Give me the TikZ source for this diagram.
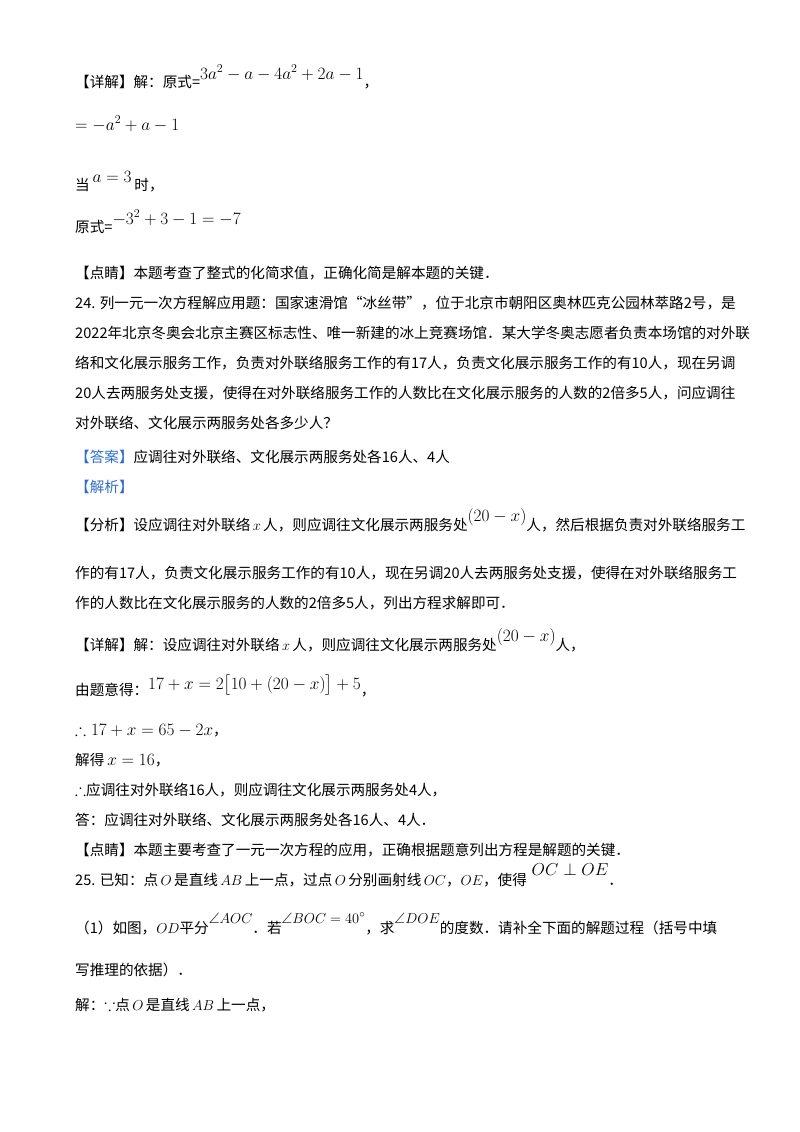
\documentclass[tikz,border=0pt]{standalone}
\usepackage{amsmath,amssymb}
\usepackage{fontspec}
\setmainfont{Noto Sans CJK SC}
\newcommand{\rs}[2][7pt]{\raisebox{#1}{\fontsize{17}{19}\selectfont #2}}
\newcommand{\rt}[2][10pt]{\raisebox{#1}{\fontsize{15}{17}\selectfont #2}}
\newcommand{\mm}[1]{{\fontsize{16.5}{19}\selectfont #1}}
\begin{document}
\begin{tikzpicture}[x=1pt,y=-1pt,every node/.style={anchor=base west,inner sep=0pt,font=\fontsize{14.6}{17}\selectfont}]
\useasboundingbox[fill=white] (0,0) rectangle (800,1132);
\definecolor{ab}{RGB}{50,110,200}
\node (l1) at (75,88) {【详解】解：原式=\rs[9pt]{$3a^2-a-4a^2+2a-1$}，};
\node (l2) at (75,130) {\mm{$=-a^2+a-1$}};
\node (l3) at (75,190) {当\rs[8pt]{$\,a=3\,$}时，};
\node (l4) at (75,232) {原式=\rs[8pt]{$-3^2+3-1=-7$}};
\node (l5) at (75,278) {【点睛】本题考查了整式的化简求值，正确化简是解本题的关键．};
\node (l6) at (75,308) {24. 列一元一次方程解应用题：国家速滑馆“冰丝带”，位于北京市朝阳区奥林匹克公园林萃路2号，是};
\node (l7) at (75,338) {2022年北京冬奥会北京主赛区标志性、唯一新建的冰上竞赛场馆．某大学冬奥志愿者负责本场馆的对外联};
\node (l8) at (75,368) {络和文化展示服务工作，负责对外联络服务工作的有17人，负责文化展示服务工作的有10人，现在另调};
\node (l9) at (75,398) {20人去两服务处支援，使得在对外联络服务工作的人数比在文化展示服务的人数的2倍多5人，问应调往};
\node (l10) at (75,428) {对外联络、文化展示两服务处各多少人？};
\node (l11) at (75,462) {\textcolor{ab}{【答案】}应调往对外联络、文化展示两服务处各16人、4人};
\node (l12) at (75,492) {\textcolor{ab}{【解析】}};
\node (l13) at (75,530) {【分析】设应调往对外联络$\,x\,$人，则应调往文化展示两服务处\rs[9pt]{$\left(20-x\right)$}人，然后根据负责对外联络服务工};
\node (l14) at (75,578) {作的有17人，负责文化展示服务工作的有10人，现在另调20人去两服务处支援，使得在对外联络服务工};
\node (l15) at (75,608) {作的人数比在文化展示服务的人数的2倍多5人，列出方程求解即可．};
\node (l16) at (75,650) {【详解】解：设应调往对外联络$\,x\,$人，则应调往文化展示两服务处\rs[9pt]{$\left(20-x\right)$}人，};
\node (l17) at (75,695) {由题意得：\rs[6pt]{$17+x=2\bigl[10+\left(20-x\right)\bigr]+5$}，};
\node (l18) at (75,735) {\mm{$\therefore 17+x=65-2x$}，};
\node (l19) at (75,765) {解得\mm{$\,x=16$}，};
\node (l20) at (75,795) {\mm{$\therefore$}应调往对外联络16人，则应调往文化展示两服务处4人，};
\node (l21) at (75,825) {答：应调往对外联络、文化展示两服务处各16人、4人．};
\node (l22) at (75,855) {【点睛】本题主要考查了一元一次方程的应用，正确根据题意列出方程是解题的关键．};
\node (l23) at (75,885) {25. 已知：点$\,O\,$是直线$\,AB\,$上一点，过点$\,O\,$分别画射线$\,OC$，$OE$，使得\rs[10pt]{$\;OC\perp OE$}．};
\node (l24) at (75,933) {（1）如图，$OD$平分\rt{$\angle AOC$}．若\rt{$\angle BOC=40^\circ$}，求\rt{$\angle DOE$}的度数．请补全下面的解题过程（括号中填};
\node (l25) at (75,975) {写推理的依据）．};
\node (l26) at (75,1010) {解：\mm{$\because$}点$\,O\,$是直线$\,AB\,$上一点，};
\end{tikzpicture}
\end{document}
